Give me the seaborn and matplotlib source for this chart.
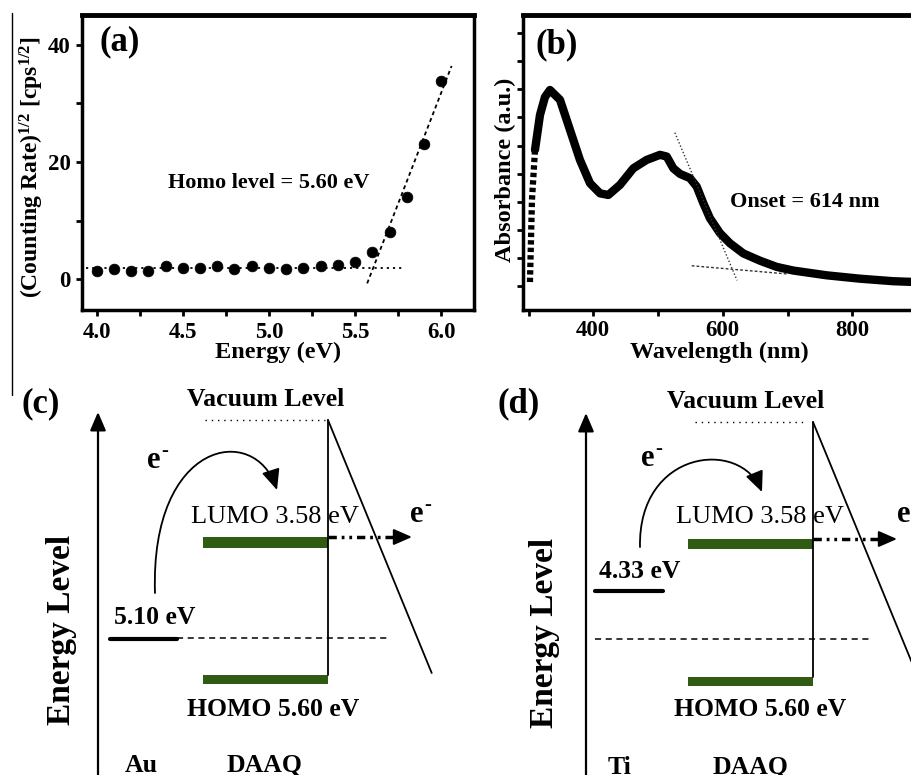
import numpy as np
import pandas as pd
import matplotlib
matplotlib.use("Agg")
import matplotlib.pyplot as plt
import seaborn as sns
from matplotlib.patches import Rectangle, FancyArrowPatch
from matplotlib.path import Path
from matplotlib.ticker import MultipleLocator

# ---------------- data: panel (a) UPS-like plot ----------------
energy_ev = [4.0, 4.1, 4.2, 4.3, 4.4, 4.5, 4.6, 4.7, 4.8, 4.9, 5.0,
             5.1, 5.2, 5.3, 5.4, 5.5, 5.6, 5.7, 5.8, 5.9, 6.0]
counting_rate_sqrt = [1.5, 1.7, 1.5, 1.5, 2.2, 2.0, 2.0, 2.3, 1.7, 2.3, 2.0,
                      1.7, 2.0, 2.3, 2.4, 2.9, 4.6, 8.0, 14.0, 23.1, 33.9]
baseline_fit_x = [3.94, 5.77]
baseline_fit_y = [1.9, 1.9]
onset_fit_x = [5.57, 6.06]
onset_fit_y = [-0.7, 36.4]
a_xticks = [4.0, 4.5, 5.0, 5.5, 6.0]
a_yticks = [0, 20, 40]
homo_label = "Homo level = 5.60 eV"

# ---------------- data: panel (b) absorbance ----------------
wavelength_nm = [302.2, 305.3, 310.0, 317.7, 325.4, 333.1, 348.6, 364.0, 379.4,
                 394.9, 410.3, 423.2, 441.2, 461.8, 482.4, 503.0, 513.4, 523.6,
                 534.0, 549.3, 559.7, 569.9, 580.2, 595.7, 611.1, 631.7, 657.5,
                 683.2, 708.9, 760.5, 811.9, 863.3, 900.0]
absorbance = [0.214, 0.506, 0.685, 0.809, 0.873, 0.898, 0.863, 0.756, 0.649,
              0.566, 0.530, 0.524, 0.560, 0.619, 0.649, 0.667, 0.661, 0.619,
              0.599, 0.584, 0.554, 0.495, 0.441, 0.388, 0.352, 0.316, 0.290,
              0.268, 0.255, 0.238, 0.226, 0.217, 0.214]
tangent_steep_x = [526.0, 622.0]
tangent_steep_y = [0.746, 0.220]
tangent_base_x = [552.0, 699.0]
tangent_base_y = [0.272, 0.243]
b_xticks = [400, 600, 800]
onset_label = "Onset = 614 nm"

# ---------------- data: panels (c), (d) energy diagrams ----------------
metals = ["Au", "Ti"]
metal_work_function_ev = [5.10, 4.33]
daaq_lumo_ev = 3.58
daaq_homo_ev = 5.60
molecule = "DAAQ"

# ---------------- style ----------------
sns.set_style("ticks")
plt.rcParams["font.family"] = ["Liberation Serif", "DejaVu Serif"]
plt.rcParams["font.weight"] = "bold"
plt.rcParams["mathtext.fontset"] = "custom"
plt.rcParams["mathtext.rm"] = "Liberation Serif:bold"
plt.rcParams["mathtext.bf"] = "Liberation Serif:bold"
plt.rcParams["mathtext.it"] = "Liberation Serif:italic:bold"
plt.rcParams["mathtext.default"] = "rm"
for key in ("text.color", "axes.labelcolor", "xtick.color", "ytick.color",
            "axes.edgecolor"):
    plt.rcParams[key] = "black"

W, H = 912, 775
fig = plt.figure(figsize=(W / 100, H / 100), dpi=100, facecolor="white")


def rect(l, t, r, b):
    return [l / W, 1 - b / H, (r - l) / W, (b - t) / H]


TICK_FS = 16.5
LABEL_FS = 17.5
TAG_FS = 25

# ---------------- panel (a) ----------------
ax_a = fig.add_axes(rect(82, 15, 474, 310))
df_a = pd.DataFrame({"E": energy_ev, "R": counting_rate_sqrt})
sns.lineplot(x=baseline_fit_x, y=baseline_fit_y, ax=ax_a, color="k",
             lw=1.3, linestyle=(0, (1.2, 2.2)))
sns.lineplot(x=onset_fit_x, y=onset_fit_y, ax=ax_a, color="k",
             lw=1.3, linestyle=(0, (2.2, 1.8)))
sns.scatterplot(data=df_a, x="E", y="R", ax=ax_a, color="k", s=60,
                edgecolor="k", linewidth=0.5, zorder=3)
ax_a.set_xlim(3.915, 6.19)
ax_a.set_ylim(-5.24, 45.1)
ax_a.set_xticks(a_xticks)
ax_a.set_xticklabels([f"{v:.1f}" for v in a_xticks])
ax_a.set_yticks(a_yticks)
ax_a.xaxis.set_minor_locator(MultipleLocator(0.25))
ax_a.yaxis.set_minor_locator(MultipleLocator(10))
ax_a.tick_params(which="both", direction="out", length=4, width=2,
                 labelsize=TICK_FS, top=False, right=False)
ax_a.tick_params(axis="x", pad=4.5)
ax_a.tick_params(axis="y", pad=4)
ax_a.set_xlabel("Energy (eV)", fontsize=LABEL_FS, fontweight="bold", va="center")
ax_a.xaxis.set_label_coords(0.5, -0.143)
ax_a.set_ylabel(r"(Counting Rate)$^{1/2}$ [cps$^{1/2}$]", fontsize=LABEL_FS - 0.5,
                fontweight="bold", va="center")
ax_a.yaxis.set_label_coords(-0.128, 0.485)
for s in ax_a.spines.values():
    s.set_visible(True)
    s.set_linewidth(2.5)
    s.set_color("black")
ax_a.spines["top"].set_linewidth(3.5)
ax_a.text(0.097, 0.91, "(a)", transform=ax_a.transAxes, fontsize=TAG_FS,
          fontweight="bold", ha="center", va="center")
ax_a.text(0.477, 0.431, homo_label, transform=ax_a.transAxes, fontsize=16,
          fontweight="bold", ha="center", va="center")

# ---------------- panel (b) ----------------
ax_b = fig.add_axes(rect(522.7, 15, 930, 310))
df_b = pd.DataFrame({"wl": wavelength_nm, "A": absorbance})
sns.lineplot(data=df_b.iloc[:3], x="wl", y="A", ax=ax_b, color="k", lw=4.5,
             linestyle=(0, (0.7, 0.5)), estimator=None, sort=False)
sns.lineplot(data=df_b.iloc[2:], x="wl", y="A", ax=ax_b, color="k", lw=6,
             estimator=None, sort=False, solid_capstyle="round",
             solid_joinstyle="round")
sns.lineplot(x=tangent_steep_x, y=tangent_steep_y, ax=ax_b, color="#333333",
             lw=1.0, linestyle=(0, (1, 1.5)))
sns.lineplot(x=tangent_base_x, y=tangent_base_y, ax=ax_b, color="#333333",
             lw=1.0, linestyle=(0, (2, 1.5)))
ax_b.set_xlim(291, 920)
ax_b.set_ylim(0.1145, 1.165)
ax_b.set_xticks(b_xticks)
ax_b.set_xticklabels([str(v) for v in b_xticks])
ax_b.xaxis.set_minor_locator(MultipleLocator(100))
ax_b.set_yticks(np.arange(0.2, 1.15, 0.1))
ax_b.set_yticklabels([])
ax_b.tick_params(which="both", direction="out", length=4, width=2,
                 labelsize=TICK_FS, top=False, right=False)
ax_b.tick_params(axis="x", pad=3)
ax_b.set_xlabel("Wavelength (nm)", fontsize=LABEL_FS, fontweight="bold", va="center")
ax_b.xaxis.set_label_coords(0.482, -0.143)
ax_b.set_ylabel("Absorbance (a.u.)", fontsize=LABEL_FS, fontweight="bold", va="center")
ax_b.yaxis.set_label_coords(-0.043, 0.475)
for s in ax_b.spines.values():
    s.set_visible(True)
    s.set_linewidth(2.5)
    s.set_color("black")
ax_b.spines["top"].set_linewidth(3.5)
ax_b.text(0.084, 0.9, "(b)", transform=ax_b.transAxes, fontsize=TAG_FS,
          fontweight="bold", ha="center", va="center")
ax_b.text(0.693, 0.366, onset_label, transform=ax_b.transAxes, fontsize=16,
          fontweight="bold", ha="center", va="center")

# ---------------- panels (c), (d): schematic energy diagrams ----------------
ax_d = fig.add_axes([0, 0, 1, 1], zorder=5)
ax_d.set_xlim(0, W)
ax_d.set_ylim(H, 0)
ax_d.axis("off")
ax_d.patch.set_alpha(0)

# stray vertical rule at the left edge of the original figure
ax_d.plot([12, 12], [13, 395], color="k", lw=1.0)

GREEN = "#2f5c12"
layouts = [
    dict(tag="(c)", tag_xy=(41, 404), axis_x=98, axis_top=412, el_xy=(62, 630),
         vac_txt=(266, 400), vac_line=(205, 325, 420), xL=203, xV=328,
         lumo=(537, 548), homo=(675, 684), diag_end=(431.7, 673),
         lumo_txt=(275, 517), homo_txt=(273, 710), dashdot=(328, 400, 537),
         metal_line=(110, 177, 639), metal_txt=(155, 618), fermi=(177, 387, 638),
         bez=[(155, 593), (150, 440), (255, 422), (277, 490)],
         eL_xy=(147, 460), eR_x=410, metal_name_xy=(141, 765), mol_xy=(265, 765)),
    dict(tag="(d)", tag_xy=(519, 404), axis_x=586, axis_top=413, el_xy=(545, 633),
         vac_txt=(746, 402), vac_line=(695, 807, 422), xL=688, xV=813,
         lumo=(539, 549), homo=(677, 686), diag_end=(917, 675),
         lumo_txt=(760, 517), homo_txt=(760, 710), dashdot=(813, 885, 539),
         metal_line=(595, 663, 591), metal_txt=(640, 572), fermi=(595, 870, 639),
         bez=[(640, 547), (638, 450), (740, 438), (762, 492)],
         eL_xy=(641, 458), eR_x=897, metal_name_xy=(620, 767), mol_xy=(751, 767)),
]


def electron(ax, x, y):
    """'e' with a short superscript minus, left edge at x, centre at y."""
    ax.text(x, y, "e", fontsize=22, fontweight="bold", ha="left", va="center")
    ax.text(x + 14.5, y - 9, "-", fontsize=15, fontweight="bold", ha="left",
            va="center")


for metal, wf, L in zip(metals, metal_work_function_ev, layouts):
    txt = dict(fontweight="bold", ha="center", va="center", color="k")
    ax_d.text(*L["tag_xy"], L["tag"], fontsize=TAG_FS, **txt)
    # energy axis arrow
    ax_d.annotate("", xy=(L["axis_x"], L["axis_top"]), xytext=(L["axis_x"], 800),
                  arrowprops=dict(arrowstyle="-|>,head_length=0.7,head_width=0.3",
                                  lw=1.6, color="k", mutation_scale=16,
                                  shrinkA=0, shrinkB=0),
                  annotation_clip=False)
    ax_d.text(*L["el_xy"], "Energy Level", fontsize=24, rotation=90, **txt)
    ax_d.text(*L["vac_txt"], "Vacuum Level", fontsize=18.5, **txt)
    x0, x1, yv = L["vac_line"]
    ax_d.plot([x0, x1], [yv, yv], color="k", lw=1.0, linestyle=(0, (1, 3.5)))
    # DAAQ levels
    xL, xV = L["xL"], L["xV"]
    for (yt, yb) in (L["lumo"], L["homo"]):
        ax_d.add_patch(Rectangle((xL, yt), xV - xL, yb - yt, facecolor=GREEN,
                                 edgecolor="none"))
    ax_d.plot([xV, xV], [yv, L["homo"][0]], color="k", lw=1.3)
    ax_d.plot([xV, L["diag_end"][0]], [yv, L["diag_end"][1]], color="k", lw=1.3)
    ax_d.text(*L["lumo_txt"], f"LUMO {daaq_lumo_ev:.2f} eV", fontsize=19,
              fontweight="normal", ha="center", va="center")
    ax_d.text(*L["homo_txt"], f"HOMO {daaq_homo_ev:.2f} eV", fontsize=18.5, **txt)
    # dash-dot electron escape arrow
    d0, d1, yd = L["dashdot"]
    ax_d.plot([d0, d1], [yd, yd], color="k", lw=2.5,
              linestyle=(0, (2.4, 1.4, 0.8, 1.4, 0.8, 1.4)))
    ax_d.annotate("", xy=(d1 + 12, yd), xytext=(d1 - 2, yd),
                  arrowprops=dict(arrowstyle="-|>,head_length=0.8,head_width=0.35",
                                  lw=1.5, color="k", mutation_scale=14,
                                  shrinkA=0, shrinkB=0),
                  annotation_clip=False)
    electron(ax_d, L["eR_x"], 514)
    # metal work function
    m0, m1, ym = L["metal_line"]
    ax_d.plot([m0, m1], [ym, ym], color="k", lw=3)
    ax_d.text(*L["metal_txt"], f"{wf:.2f} eV", fontsize=18.5, **txt)
    f0, f1, yf = L["fermi"]
    ax_d.plot([f0, f1], [yf, yf], color="k", lw=1.1, linestyle=(0, (4, 3)))
    # curved injection arrow
    path = Path(L["bez"], [Path.MOVETO, Path.CURVE4, Path.CURVE4, Path.CURVE4])
    ax_d.add_patch(FancyArrowPatch(path=path,
                                   arrowstyle="-|>,head_length=0.9,head_width=0.4",
                                   mutation_scale=14, lw=1.3, color="k"))
    electron(ax_d, *L["eL_xy"])
    ax_d.text(*L["metal_name_xy"], metal, fontsize=18.5, **txt)
    ax_d.text(*L["mol_xy"], molecule, fontsize=18.5, **txt)

fig.savefig("out.png", dpi=100, facecolor="white")
